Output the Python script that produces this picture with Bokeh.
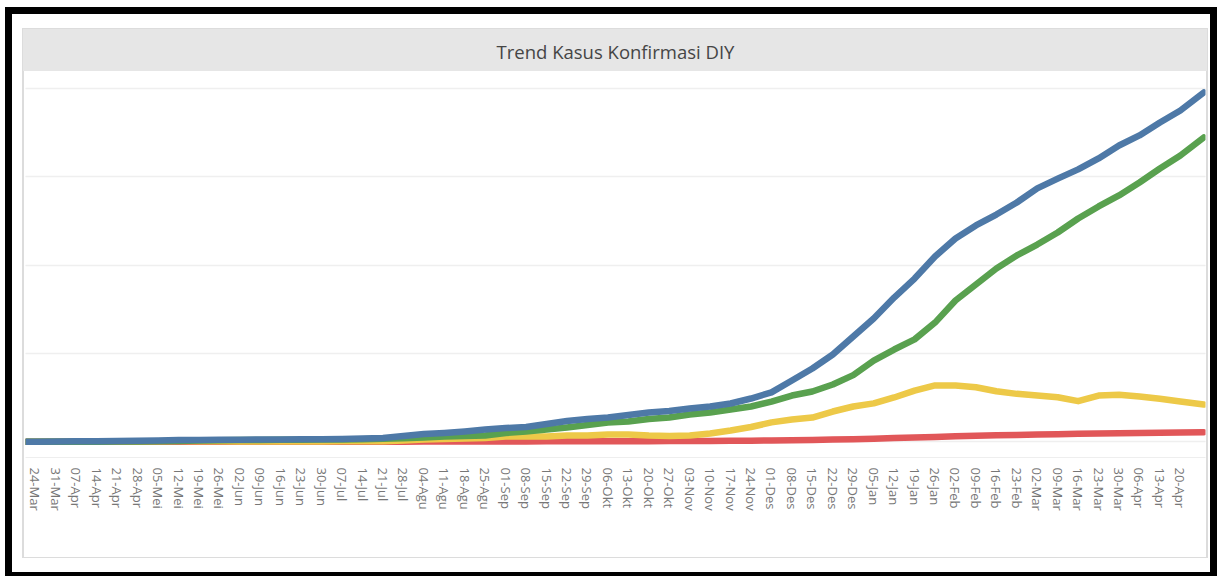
import pandas as pd
from bokeh.plotting import figure
from bokeh.models import Range1d, FixedTicker, Grid
from bokeh.embed import file_html
from bokeh.resources import INLINE

title_text = "Trend Kasus Konfirmasi DIY"

start_date = "2020-03-21"
end_date = "2021-04-28"
first_tick = "2020-03-24"

tick_labels = [
    "24-Mar", "31-Mar", "07-Apr", "14-Apr", "21-Apr", "28-Apr", "05-Mei", "12-Mei",
    "19-Mei", "26-Mei", "02-Jun", "09-Jun", "16-Jun", "23-Jun", "30-Jun", "07-Jul",
    "14-Jul", "21-Jul", "28-Jul", "04-Agu", "11-Agu", "18-Agu", "25-Agu", "01-Sep",
    "08-Sep", "15-Sep", "22-Sep", "29-Sep", "06-Okt", "13-Okt", "20-Okt", "27-Okt",
    "03-Nov", "10-Nov", "17-Nov", "24-Nov", "01-Des", "08-Des", "15-Des", "22-Des",
    "29-Des", "05-Jan", "12-Jan", "19-Jan", "26-Jan", "02-Feb", "09-Feb", "16-Feb",
    "23-Feb", "02-Mar", "09-Mar", "16-Mar", "23-Mar", "30-Mar", "06-Apr", "13-Apr",
    "20-Apr",
]

# values at: start date, each weekly tick date, end date
total = [3,
    10, 30, 50, 70, 90, 110, 150, 190, 210, 230, 240, 250, 260, 280, 300, 330,
    370, 420, 650, 880, 1000, 1170, 1390, 1560, 1680, 2010, 2350, 2580, 2750, 3030,
    3320, 3490, 3770, 4000, 4340, 4900, 5600, 6940, 8300, 9890, 11930, 13960, 16340,
    18490, 20980, 23020, 24500, 25740, 27100, 28700, 29800, 30850, 32090, 33560,
    34700, 36160, 37520,
    39560]
recovered = [0,
    0, 2, 5, 15, 30, 45, 70, 100, 140, 170, 190, 205, 220, 235, 250, 270,
    300, 340, 400, 480, 600, 650, 710, 1000, 1170, 1390, 1620, 1900, 2190, 2300,
    2580, 2750, 3090, 3320, 3660, 4000, 4560, 5240, 5700, 6490, 7550, 9200, 10450,
    11600, 13500, 16000, 17810, 19630, 21100, 22340, 23700, 25290, 26650, 27900,
    29370, 30950, 32420,
    34460]
active = [3,
    10, 25, 40, 50, 55, 60, 70, 80, 60, 50, 40, 35, 30, 35, 40, 50,
    60, 70, 150, 260, 320, 370, 430, 600, 600, 600, 710, 710, 830, 830,
    710, 660, 710, 940, 1280, 1680, 2200, 2520, 2750, 3430, 4000, 4350, 5020,
    5800, 6380, 6380, 6180, 5730, 5430, 5240, 5050, 4600, 5240, 5320,
    5130, 4870, 4560,
    4220]
deaths = [0,
    0, 2, 4, 6, 7, 8, 8, 8, 8, 8, 8, 8, 8, 8, 8, 8,
    10, 12, 15, 20, 25, 30, 35, 40, 45, 50, 55, 60, 65, 70,
    75, 80, 90, 100, 110, 130, 150, 180, 210, 250, 300, 350, 420,
    480, 550, 620, 680, 730, 780, 820, 860, 900, 930, 960,
    990, 1020, 1050,
    1080]

grid_values = [0, 10000, 20000, 30000, 40000]

colors = {"total": "#4e79a7", "recovered": "#59a14f", "active": "#edc948", "deaths": "#e15759"}

t0 = pd.Timestamp(start_date)
tick_dates = pd.date_range(first_tick, periods=len(tick_labels), freq="7D")
tick_x = [int((d - t0).days) for d in tick_dates]
data_x = [0] + tick_x + [int((pd.Timestamp(end_date) - t0).days)]

# page decoration (black frame, grey panel, title bar) painted behind a transparent canvas
panel_bg = ", ".join([
    "linear-gradient(#e6e6e6,#e6e6e6) 23px 29px / 1184px 42px no-repeat",
    "linear-gradient(#ffffff,#ffffff) 24px 29px / 1182px 528px no-repeat",
    "linear-gradient(#dcdcdc,#dcdcdc) 22px 28px / 1186px 530px no-repeat",
    "linear-gradient(#ffffff,#ffffff) 12px 14px / 1198px 558px no-repeat",
    "linear-gradient(#000000,#000000) 5px 7px / 1212px 569px no-repeat",
    "#ffffff",
])

p = figure(width=1219, height=576, output_backend="svg", toolbar_location=None,
           x_range=Range1d(-0.4, 403.6), y_range=Range1d(-1778, 41937),
           y_axis_location=None,
           min_border_left=25, min_border_right=14, min_border_top=71, min_border_bottom=119,
           background_fill_color=None, border_fill_color=None,
           outline_line_color=None, styles={"background": panel_bg})

p.title.text = title_text
p.title.align = "center"
p.title.text_font = "Open Sans"
p.title.text_font_style = "normal"
p.title.text_font_size = "18.5px"
p.title.text_color = "#454545"
p.title.standoff = 15

p.xgrid.visible = False
p.add_layout(Grid(dimension=1, ticker=FixedTicker(ticks=grid_values),
                  grid_line_color="#efefef", grid_line_width=1.5))

ax = p.xaxis[0]
ax.ticker = FixedTicker(ticks=tick_x)
ax.major_label_overrides = {x: lbl for x, lbl in zip(tick_x, tick_labels)}
ax.major_label_orientation = "vertical"
ax.major_tick_line_color = None
ax.minor_tick_line_color = None
ax.axis_line_color = "#eeeeee"
ax.major_label_standoff = 4
ax.major_label_text_font = "Open Sans"
ax.major_label_text_font_size = "13px"
ax.major_label_text_color = "#777777"

for series, key in [(deaths, "deaths"), (active, "active"), (recovered, "recovered"), (total, "total")]:
    p.line(data_x, series, line_color=colors[key], line_width=6.5,
           line_cap="round", line_join="round")

open("out.html", "w").write(file_html(p, INLINE))
